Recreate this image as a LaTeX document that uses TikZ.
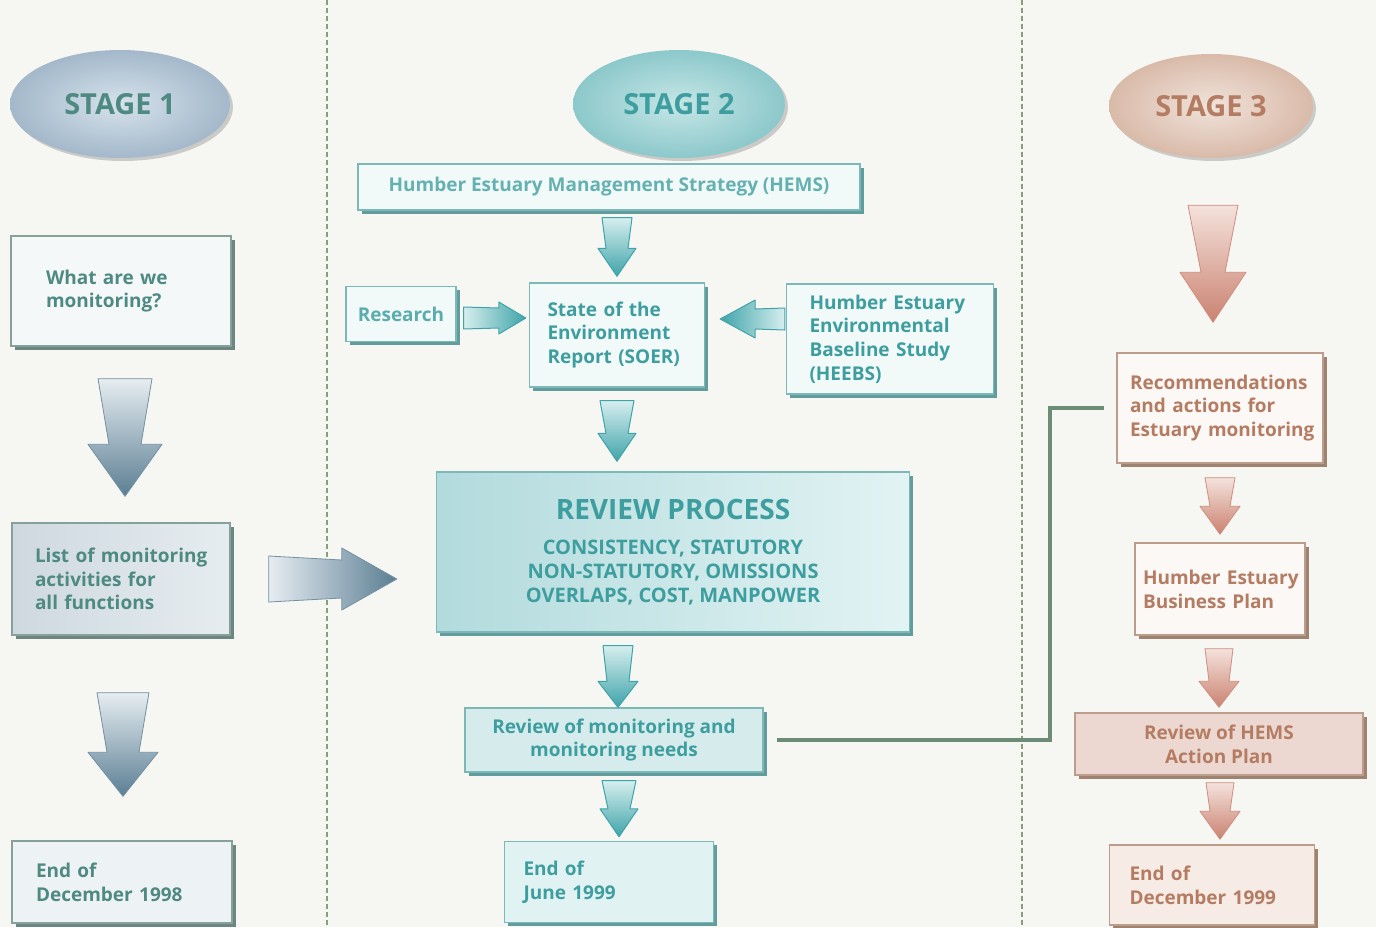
\documentclass[tikz,border=0pt]{standalone}
\usepackage{fontspec}
\setmainfont{Open Sans}
\usetikzlibrary{shapes.geometric,shadows,calc}

% palette
\definecolor{paper}{HTML}{F6F6F3}
\definecolor{divider}{HTML}{86A07C}
\definecolor{linkcol}{HTML}{6C8C76}
% stage 1 (blue-grey)
\definecolor{sAink}{HTML}{4E8A82}
\definecolor{sAline}{HTML}{86A09A}
\definecolor{sAshade}{HTML}{6E8681}
\definecolor{sAlight}{HTML}{E6EDF1}
\definecolor{sAdark}{HTML}{5B7E93}
\definecolor{sAovalin}{HTML}{D6E2EB}
\definecolor{sAovalout}{HTML}{A3B8CA}
% stage 2 (teal)
\definecolor{sBink}{HTML}{3E9E9F}
\definecolor{sBline}{HTML}{7CB8B8}
\definecolor{sBshade}{HTML}{639C9C}
\definecolor{sBlight}{HTML}{D6EEEE}
\definecolor{sBdark}{HTML}{3FA4AA}
\definecolor{sBovalin}{HTML}{C6E6E7}
\definecolor{sBovalout}{HTML}{8CC8CA}
% stage 3 (terracotta)
\definecolor{sCink}{HTML}{B47C62}
\definecolor{sCline}{HTML}{BC9D8B}
\definecolor{sCshade}{HTML}{9E8371}
\definecolor{sClight}{HTML}{F4E2DC}
\definecolor{sCdark}{HTML}{CA8270}
\definecolor{sCovalin}{HTML}{F0E3DA}
\definecolor{sCovalout}{HTML}{D9BAA9}

% block arrow pointing down: style, start, tip, half top width, half neck width, half head width, head length
\newcommand\blockdown[7]{%
  \path[#1] let \p1=(#2), \p2=(#3) in
    (\x2-#4,\y1) -- (\x2+#4,\y1) -- (\x2+#5,\y2+#7) -- (\x2+#6,\y2+#7) -- (\x2,\y2)
    -- (\x2-#6,\y2+#7) -- (\x2-#5,\y2+#7) -- cycle;}
% block arrow pointing right
\newcommand\blockright[7]{%
  \path[#1] let \p1=(#2), \p2=(#3) in
    (\x1,\y2+#4) -- (\x2-#7,\y2+#5) -- (\x2-#7,\y2+#6) -- (\x2,\y2)
    -- (\x2-#7,\y2-#6) -- (\x2-#7,\y2-#5) -- (\x1,\y2-#4) -- cycle;}
% block arrow pointing left
\newcommand\blockleft[7]{%
  \path[#1] let \p1=(#2), \p2=(#3) in
    (\x1,\y2+#4) -- (\x2+#7,\y2+#5) -- (\x2+#7,\y2+#6) -- (\x2,\y2)
    -- (\x2+#7,\y2-#6) -- (\x2+#7,\y2-#5) -- (\x1,\y2-#4) -- cycle;}

\tikzset{
  txt/.style={font=\bfseries\fontsize{19}{23.8}\selectfont},
  box/.style={rectangle, draw, line width=1.4pt, inner sep=0pt, txt},
  sAbox/.style={box, draw=sAline, text=sAink, fill=white!60!sAlight,
    drop shadow={shadow xshift=3.5pt, shadow yshift=-3.5pt, opacity=1, fill=sAshade}},
  sBbox/.style={box, draw=sBline, text=sBink, fill=white!65!sBlight,
    drop shadow={shadow xshift=3.5pt, shadow yshift=-3.5pt, opacity=1, fill=sBshade}},
  sCbox/.style={box, draw=sCline, text=sCink, fill=white!75!sClight,
    drop shadow={shadow xshift=3.5pt, shadow yshift=-3.5pt, opacity=1, fill=sCshade}},
  stage/.style={ellipse, inner sep=0pt, font=\bfseries\fontsize{29}{32}\selectfont,
    drop shadow={shadow xshift=3pt, shadow yshift=-3pt, opacity=.3, fill=black!60}},
  sAarrow/.style={top color=sAlight, bottom color=sAdark, draw=sAdark!85!white, line width=0.8pt, line join=round},
  sAarrowh/.style={left color=sAlight, right color=sAdark, draw=sAdark!85!white, line width=0.8pt, line join=round},
  sBarrow/.style={top color=sBlight, bottom color=sBdark, draw=sBdark, line width=1pt, line join=round},
  sBarrowr/.style={left color=sBlight, right color=sBdark, draw=sBdark, line width=1pt, line join=round},
  sBarrowl/.style={left color=sBdark, right color=sBlight, draw=sBdark, line width=1pt, line join=round},
  sCarrow/.style={top color=sClight, bottom color=sCdark, draw=sCdark!90!white, line width=0.8pt, line join=round},
  sepline/.style={divider, line width=1.8pt, dash pattern=on 5pt off 3pt},
  link/.style={linkcol, line width=3.5pt},
}

\begin{document}
\begin{tikzpicture}[x=1pt, y=-1pt]
\useasboundingbox (0,0) rectangle (1376,927);
\fill[paper] (0,0) rectangle (1376,927);

% column dividers
\draw[sepline] (327,0) -- (327,927);
\draw[sepline] (1022,0) -- (1022,927);

% ---------------- stage 1 ----------------
\node[stage, minimum width=220pt, minimum height=108pt, text=sAink,
      inner color=sAovalin, outer color=sAovalout] (s1) at (120,104) {STAGE 1};
\node[sAbox, minimum width=220pt, minimum height=110pt, text width=150pt, inner xsep=35pt, align=left]
  (what) at (121,291) {\mbox{What are we}\\\mbox{monitoring?}};
\node[sAbox, minimum width=218pt, minimum height=112pt, text width=172pt, inner xsep=23pt, align=left,
      left color=sAdark!30!white, right color=sAlight]
  (list) at (121,579) {\mbox{List of monitoring}\\\mbox{activities for}\\\mbox{all functions}};
\node[sAbox, minimum width=220pt, minimum height=82pt, text width=172pt, inner xsep=24pt, align=left,
      fill=sAlight!70!white]
  (end1) at (122,882) {\mbox{End of}\\\mbox{December 1998}};

% ---------------- stage 2 ----------------
\node[stage, minimum width=212pt, minimum height=108pt, text=sBink,
      inner color=sBovalin, outer color=sBovalout] (s2) at (679,104) {STAGE 2};
\node[sBbox, minimum width=502pt, minimum height=46pt, text=sBink!80!white] (hems) at (609,187)
  {Humber Estuary Management Strategy (HEMS)};
\node[sBbox, minimum width=110pt, minimum height=55pt, text=sBink!85!white] (research) at (401,314)
  {Research};
\node[sBbox, minimum width=175pt, minimum height=104pt, text width=139pt, inner xsep=18pt, align=left]
  (soer) at (617,335) {\mbox{State of the}\\\mbox{Environment}\\\mbox{Report (SOER)}};
\node[sBbox, minimum width=207pt, minimum height=110pt, text width=161pt, inner xsep=23pt, align=left]
  (heebs) at (890,339) {\mbox{Humber Estuary}\\\mbox{Environmental}\\\mbox{Baseline Study}\\\mbox{(HEEBS)}};
\node[sBbox, minimum width=473pt, minimum height=160pt, align=center,
      left color=sBdark!40!white, right color=sBlight!70!white]
  (review) at (673,552) {{\fontsize{28}{32}\selectfont REVIEW PROCESS}\\[12pt]
  {\fontsize{20}{23.5}\selectfont CONSISTENCY, STATUTORY}\\
  {\fontsize{20}{23.5}\selectfont NON-STATUTORY, OMISSIONS}\\
  {\fontsize{20}{23.5}\selectfont OVERLAPS, COST, MANPOWER}};
\node[sBbox, minimum width=298pt, minimum height=64pt, align=center, fill=sBdark!22!white]
  (rmon) at (614,740) {Review of monitoring and\\monitoring needs};
\node[sBbox, minimum width=209pt, minimum height=81pt, text width=171pt, inner xsep=19pt, align=left,
      fill=sBlight!75!white]
  (june) at (609,882) {\mbox{End of}\\\mbox{June 1999}};

% ---------------- stage 3 ----------------
\node[stage, minimum width=204pt, minimum height=104pt, text=sCink,
      inner color=sCovalin, outer color=sCovalout] (s3) at (1211,106) {STAGE 3};
\node[sCbox, minimum width=206pt, minimum height=110pt, text width=180pt, inner xsep=13pt, align=left]
  (rec) at (1220,408) {\mbox{Recommendations}\\\mbox{and actions for}\\\mbox{Estuary monitoring}};
\node[sCbox, minimum width=170pt, minimum height=92pt, text width=154pt, inner xsep=8pt, align=left]
  (bus) at (1220,589) {\mbox{Humber Estuary}\\\mbox{Business Plan}};
\node[sCbox, minimum width=288pt, minimum height=62pt, align=center, fill=sClight!85!sCline]
  (act) at (1219,744) {Review of HEMS\\Action Plan};
\node[sCbox, minimum width=205pt, minimum height=80pt, text width=165pt, inner xsep=20pt, align=left,
      fill=sClight!70!white]
  (end3) at (1212,885) {\mbox{End of}\\\mbox{December 1999}};

% ---------------- block arrows ----------------
% stage 1
\blockdown{sAarrow}{[yshift=-32pt]what.south}{$(list.north)+(4,-26)$}{27pt}{16pt}{37pt}{52pt}
\blockdown{sAarrow}{[yshift=-57pt]list.south}{$(end1.north)+(1,-44)$}{26pt}{16pt}{35pt}{44pt}
\blockright{sAarrowh}{[xshift=38pt]list.east}{$(list.east -| review.west)+(-39,0)$}{23pt}{19pt}{31pt}{55pt}
% stage 2
\blockdown{sBarrow}{[yshift=-7pt]hems.south}{$(soer.north)+(0,-6)$}{15pt}{11pt}{19pt}{28pt}
\blockdown{sBarrow}{[yshift=-13pt]soer.south}{$(soer.south |- review.north)+(0,-10)$}{17pt}{11pt}{19pt}{28pt}
\blockdown{sBarrow}{[yshift=-13pt]review.south}{$(rmon.north)+(4,0)$}{15pt}{11pt}{20pt}{26pt}
\blockdown{sBarrow}{[yshift=-8pt]rmon.south}{$(june.north)+(10,-4)$}{17pt}{11pt}{19pt}{28pt}
\blockright{sBarrowr}{[xshift=7pt]research.east}{$(research.east -| soer.west)+(-3,4)$}{11pt}{10pt}{16pt}{27pt}
\blockleft{sBarrowl}{[xshift=-1pt]heebs.west}{$(research.east -| soer.east)+(15,5)$}{11pt}{10pt}{19pt}{35pt}
% stage 3
\blockdown{sCarrow}{[yshift=-47pt]s3.south}{$(rec.north)+(-7,-30)$}{25pt}{12pt}{33pt}{50pt}
\blockdown{sCarrow}{[yshift=-14pt]rec.south}{$(bus.north)+(0,-8)$}{15pt}{10pt}{20pt}{28pt}
\blockdown{sCarrow}{[yshift=-13pt]bus.south}{$(act.north)+(0,-5)$}{14pt}{10pt}{20pt}{26pt}
\blockdown{sCarrow}{[yshift=-7pt]act.south}{$(end3.north)+(8,-5)$}{14pt}{10pt}{20pt}{28pt}

% feedback line from the review of monitoring to stage 3
\coordinate (bend) at (1050,0);
\draw[link] ([xshift=13pt]rmon.east) -- (bend |- rmon.east) -- (bend |- rec.west) -- ([xshift=-12pt]rec.west);

\end{tikzpicture}
\end{document}
